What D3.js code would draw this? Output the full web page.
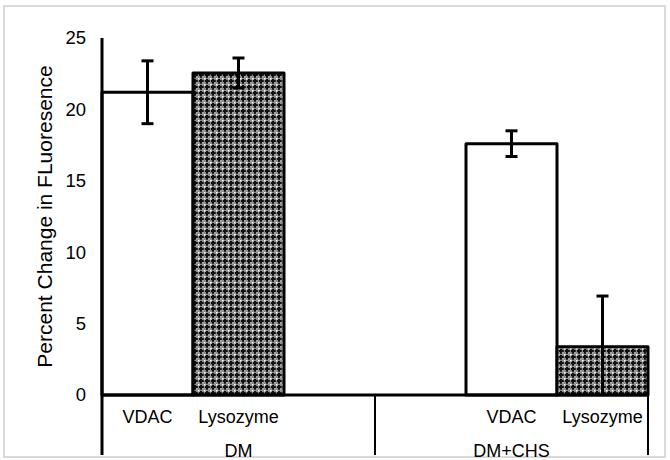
<!DOCTYPE html>
<html><head><meta charset="utf-8">
<script src="https://cdn.jsdelivr.net/npm/d3@7"></script>
<style>body{margin:0;background:#fff}svg{display:block}text{font-family:"Liberation Sans",Arial,sans-serif;fill:#000}</style>
</head><body><svg id="c" width="670" height="460"></svg>
<script>
// Data
const groups = ["DM", "DM+CHS"];
const slots = ["DM|VDAC", "DM|Lysozyme", "DM|", "DM+CHS|", "DM+CHS|VDAC", "DM+CHS|Lysozyme"];
const series = ["VDAC", "Lysozyme"];
const vdacValues = [21.2, 17.6];
const vdacErrors = [2.2, 0.9];
const lysozymeValues = [22.55, 3.38];
const lysozymeErrors = [1.05, 3.55];
const yTicks = [0, 5, 10, 15, 20, 25];

const svg = d3.select("#c");
const W = 670, H = 460;
const m = {left: 102, right: 648, top: 38, base: 395, bottom: 455};
const FONT = '"Liberation Sans",Arial,sans-serif';

// frame
svg.append("rect").attr("x", 4).attr("y", 6).attr("width", 661).attr("height", 451)
  .attr("fill", "#fff").attr("stroke", "#d9d9d9").attr("stroke-width", 2);

// pattern
const defs = svg.append("defs");
const pat = defs.append("pattern").attr("id", "chk").attr("patternUnits", "userSpaceOnUse")
  .attr("width", 6).attr("height", 6);
pat.append("rect").attr("width", 6).attr("height", 6).attr("fill", "#8c8c8c");
pat.append("rect").attr("x", 2).attr("y", 1).attr("width", 2).attr("height", 4).attr("fill", "#111");
pat.append("rect").attr("x", 1).attr("y", 2).attr("width", 4).attr("height", 2).attr("fill", "#111");
pat.append("rect").attr("x", 5).attr("y", 2).attr("width", 1).attr("height", 2).attr("fill", "#333");
pat.append("rect").attr("x", 2).attr("y", 5).attr("width", 2).attr("height", 1).attr("fill", "#333");
pat.append("rect").attr("x", 0).attr("y", 0).attr("width", 1.5).attr("height", 1.5).attr("fill", "#fff");
pat.append("rect").attr("x", 4.5).attr("y", 4.5).attr("width", 1).attr("height", 1).attr("fill", "#ddd");
defs.append("clipPath").attr("id", "plotclip").append("rect")
  .attr("x", 0).attr("y", 0).attr("width", W).attr("height", m.base);

const x = d3.scaleBand().domain(slots).range([m.left, m.right]).padding(0);
const y = d3.scaleLinear().domain([0, 25]).range([m.base, m.top]);

const data = [];
groups.forEach((g, i) => {
  data.push({slot: g + "|VDAC", s: "VDAC", v: vdacValues[i], e: vdacErrors[i]});
  data.push({slot: g + "|Lysozyme", s: "Lysozyme", v: lysozymeValues[i], e: lysozymeErrors[i]});
});

// bars
svg.append("g").selectAll("rect").data(data).join("rect")
  .attr("x", d => x(d.slot)).attr("y", d => y(d.v))
  .attr("width", x.bandwidth()).attr("height", d => y(0) - y(d.v))
  .attr("fill", d => d.s === "VDAC" ? "#fff" : "url(#chk)")
  .attr("stroke", "#000").attr("stroke-width", 3).attr("stroke-linejoin", "round");

// error bars
const eb = svg.append("g").attr("clip-path", "url(#plotclip)").attr("stroke", "#000").attr("stroke-width", 3);
data.forEach(d => {
  const cx = x(d.slot) + x.bandwidth() / 2;
  eb.append("line").attr("x1", cx).attr("x2", cx).attr("y1", y(d.v + d.e)).attr("y2", y(d.v - d.e));
  [d.v + d.e, d.v - d.e].forEach(v => {
    eb.append("line").attr("x1", cx - 6).attr("x2", cx + 6).attr("y1", y(v)).attr("y2", y(v));
  });
});

// y axis
const yAxis = svg.append("g").attr("transform", `translate(${m.left},0)`)
  .call(d3.axisLeft(y).tickValues(yTicks).tickSize(0).tickPadding(16));
yAxis.select(".domain").remove();
yAxis.selectAll("text").style("font-size", "18.5px").style("font-family", FONT);
svg.append("line").attr("x1", m.left).attr("x2", m.left).attr("y1", m.top).attr("y2", m.bottom)
  .attr("stroke", "#000").attr("stroke-width", 3);

// baseline
svg.append("line").attr("x1", m.left).attr("x2", m.right + 1).attr("y1", y(0)).attr("y2", y(0))
  .attr("stroke", "#000").attr("stroke-width", 3);

// category level 1 labels
const xAxis = svg.append("g").attr("transform", `translate(0,${m.base})`)
  .call(d3.axisBottom(x).tickSize(0).tickPadding(15).tickFormat(d => d.split("|")[1]));
xAxis.select(".domain").remove();
xAxis.selectAll("text").style("font-size", "18px").style("font-family", FONT);

// group dividers and labels
const groupBounds = groups.map(g => {
  const s = slots.filter(k => k.split("|")[0] === g);
  return {g, x0: x(s[0]), x1: x(s[s.length - 1]) + x.bandwidth()};
});
const dividers = [groupBounds[0].x1, groupBounds[1].x1];
svg.append("g").selectAll("line").data(dividers).join("line")
  .attr("x1", d => d).attr("x2", d => d).attr("y1", m.base).attr("y2", m.bottom)
  .attr("stroke", "#000").attr("stroke-width", 2);
svg.append("g").selectAll("text").data(groupBounds).join("text")
  .attr("x", d => (d.x0 + d.x1) / 2).attr("y", 451).attr("dy", "0.35em")
  .attr("text-anchor", "middle").style("font-size", "18px").text(d => d.g);

// y title
svg.append("text").attr("transform", `translate(45,${(63 + 370) / 2}) rotate(-90)`)
  .attr("text-anchor", "middle").attr("dy", "0.35em").style("font-size", "21px")
  .text("Percent Change in FLuoresence");
</script></body></html>
